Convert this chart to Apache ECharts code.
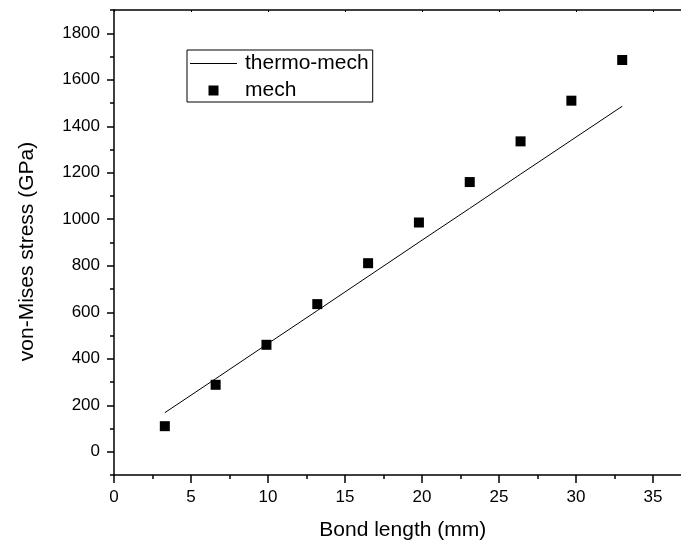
<!DOCTYPE html>
<html>
<head>
<meta charset="utf-8">
<script src="https://cdn.jsdelivr.net/npm/echarts@6/dist/echarts.min.js"></script>
<style>html,body{margin:0;padding:0;background:#fff;overflow:hidden;width:681px;height:546px}#c{width:692px;height:546px}</style>
</head>
<body>
<div id="c"></div>
<script>
var bondLength = [3.3, 6.6, 9.9, 13.2, 16.5, 19.8, 23.1, 26.4, 29.7, 33.0];
var mechStress = [110, 288, 460, 635, 811, 986, 1160, 1335, 1510, 1685];
var thermoMechStress = [168, 314, 461, 607, 754, 901, 1047, 1194, 1340, 1486];
var yTickValues = [0, 200, 400, 600, 800, 1000, 1200, 1400, 1600, 1800];
var xTickValues = [0, 5, 10, 15, 20, 25, 30, 35];

var FONT = 'Liberation Sans, Arial, sans-serif';
function pairs(xs, ys) { return xs.map(function (x, i) { return [x, ys[i]]; }); }
function plain(v) { return xTickValues.indexOf(v) >= 0 || yTickValues.indexOf(v) >= 0 ? String(v) : ''; }

var chart = echarts.init(document.getElementById('c'), null, {renderer: 'canvas'});
chart.setOption({
  animation: false,
  backgroundColor: '#fff',
  grid: {left: 114, top: 10, right: 0.5, bottom: 68, containLabel: false},
  legend: {
    left: 187, top: 50, orient: 'vertical',
    borderColor: '#000', borderWidth: 1,
    padding: [3, 4, 1, 3],
    itemWidth: 47, itemHeight: 10, itemGap: 6,
    textStyle: {fontFamily: FONT, fontSize: 21, color: '#000', lineHeight: 21, padding: [0, 0, 0, 3]},
    data: [
      {name: 'thermo-mech', icon: 'path://M0,0L47,0L47,1L0,1Z'},
      {name: 'mech', icon: 'path://M0,0L10,0L10,10L0,10Z'}
    ]
  },
  xAxis: [{
    type: 'value', min: 0, max: 37.5, interval: 5,
    name: 'Bond length (mm)', nameLocation: 'middle', nameGap: 45,
    nameTextStyle: {fontFamily: FONT, fontSize: 21, color: '#000'},
    axisLine: {show: true, onZero: false, lineStyle: {color: '#000', width: 1.5}},
    axisTick: {show: true, inside: false, length: 8, lineStyle: {color: '#000', width: 1.5}},
    minorTick: {show: true, splitNumber: 2, length: 4, lineStyle: {color: '#000', width: 1.5}},
    axisLabel: {show: true, margin: 14, fontFamily: FONT, fontSize: 17, color: '#000',
      showMaxLabel: false, formatter: plain},
    splitLine: {show: false}
  }, {
    type: 'value', min: 0, max: 37.5, interval: 5, position: 'top',
    axisLine: {show: true, onZero: false, lineStyle: {color: '#000', width: 1.5}},
    axisTick: {show: true, inside: true, length: 2, lineStyle: {color: '#000', width: 1}},
    axisLabel: {show: false}, splitLine: {show: false}
  }],
  yAxis: [{
    type: 'value', min: -100, max: 1900,
    name: 'von-Mises stress (GPa)', nameLocation: 'middle', nameGap: 76,
    nameTextStyle: {fontFamily: FONT, fontSize: 21, color: '#000', padding: [0, 18, 0, 0]},
    axisLine: {show: true, onZero: false, lineStyle: {color: '#000', width: 1.5}},
    axisTick: {show: true, inside: false, length: 7, customValues: yTickValues, lineStyle: {color: '#000', width: 1.5}},
    axisLabel: {show: true, margin: 14, fontFamily: FONT, fontSize: 17, color: '#000', customValues: yTickValues, formatter: plain},
    splitLine: {show: false}
  }, {
    type: 'value', min: -100, max: 1900, interval: 100, position: 'left',
    axisLine: {show: false},
    axisTick: {show: true, inside: false, length: 4, lineStyle: {color: '#000', width: 1.5}},
    axisLabel: {show: false}, splitLine: {show: false}
  }],
  series: [{
    name: 'thermo-mech', type: 'line', xAxisIndex: 0, yAxisIndex: 0,
    data: pairs(bondLength, thermoMechStress),
    symbol: 'none', color: '#000',
    lineStyle: {color: '#000', width: 1}
  }, {
    name: 'mech', type: 'scatter', xAxisIndex: 0, yAxisIndex: 0,
    data: pairs(bondLength, mechStress),
    symbol: 'rect', symbolSize: 10, color: '#000',
    itemStyle: {color: '#000', opacity: 1}
  }]
});
</script>
</body>
</html>
